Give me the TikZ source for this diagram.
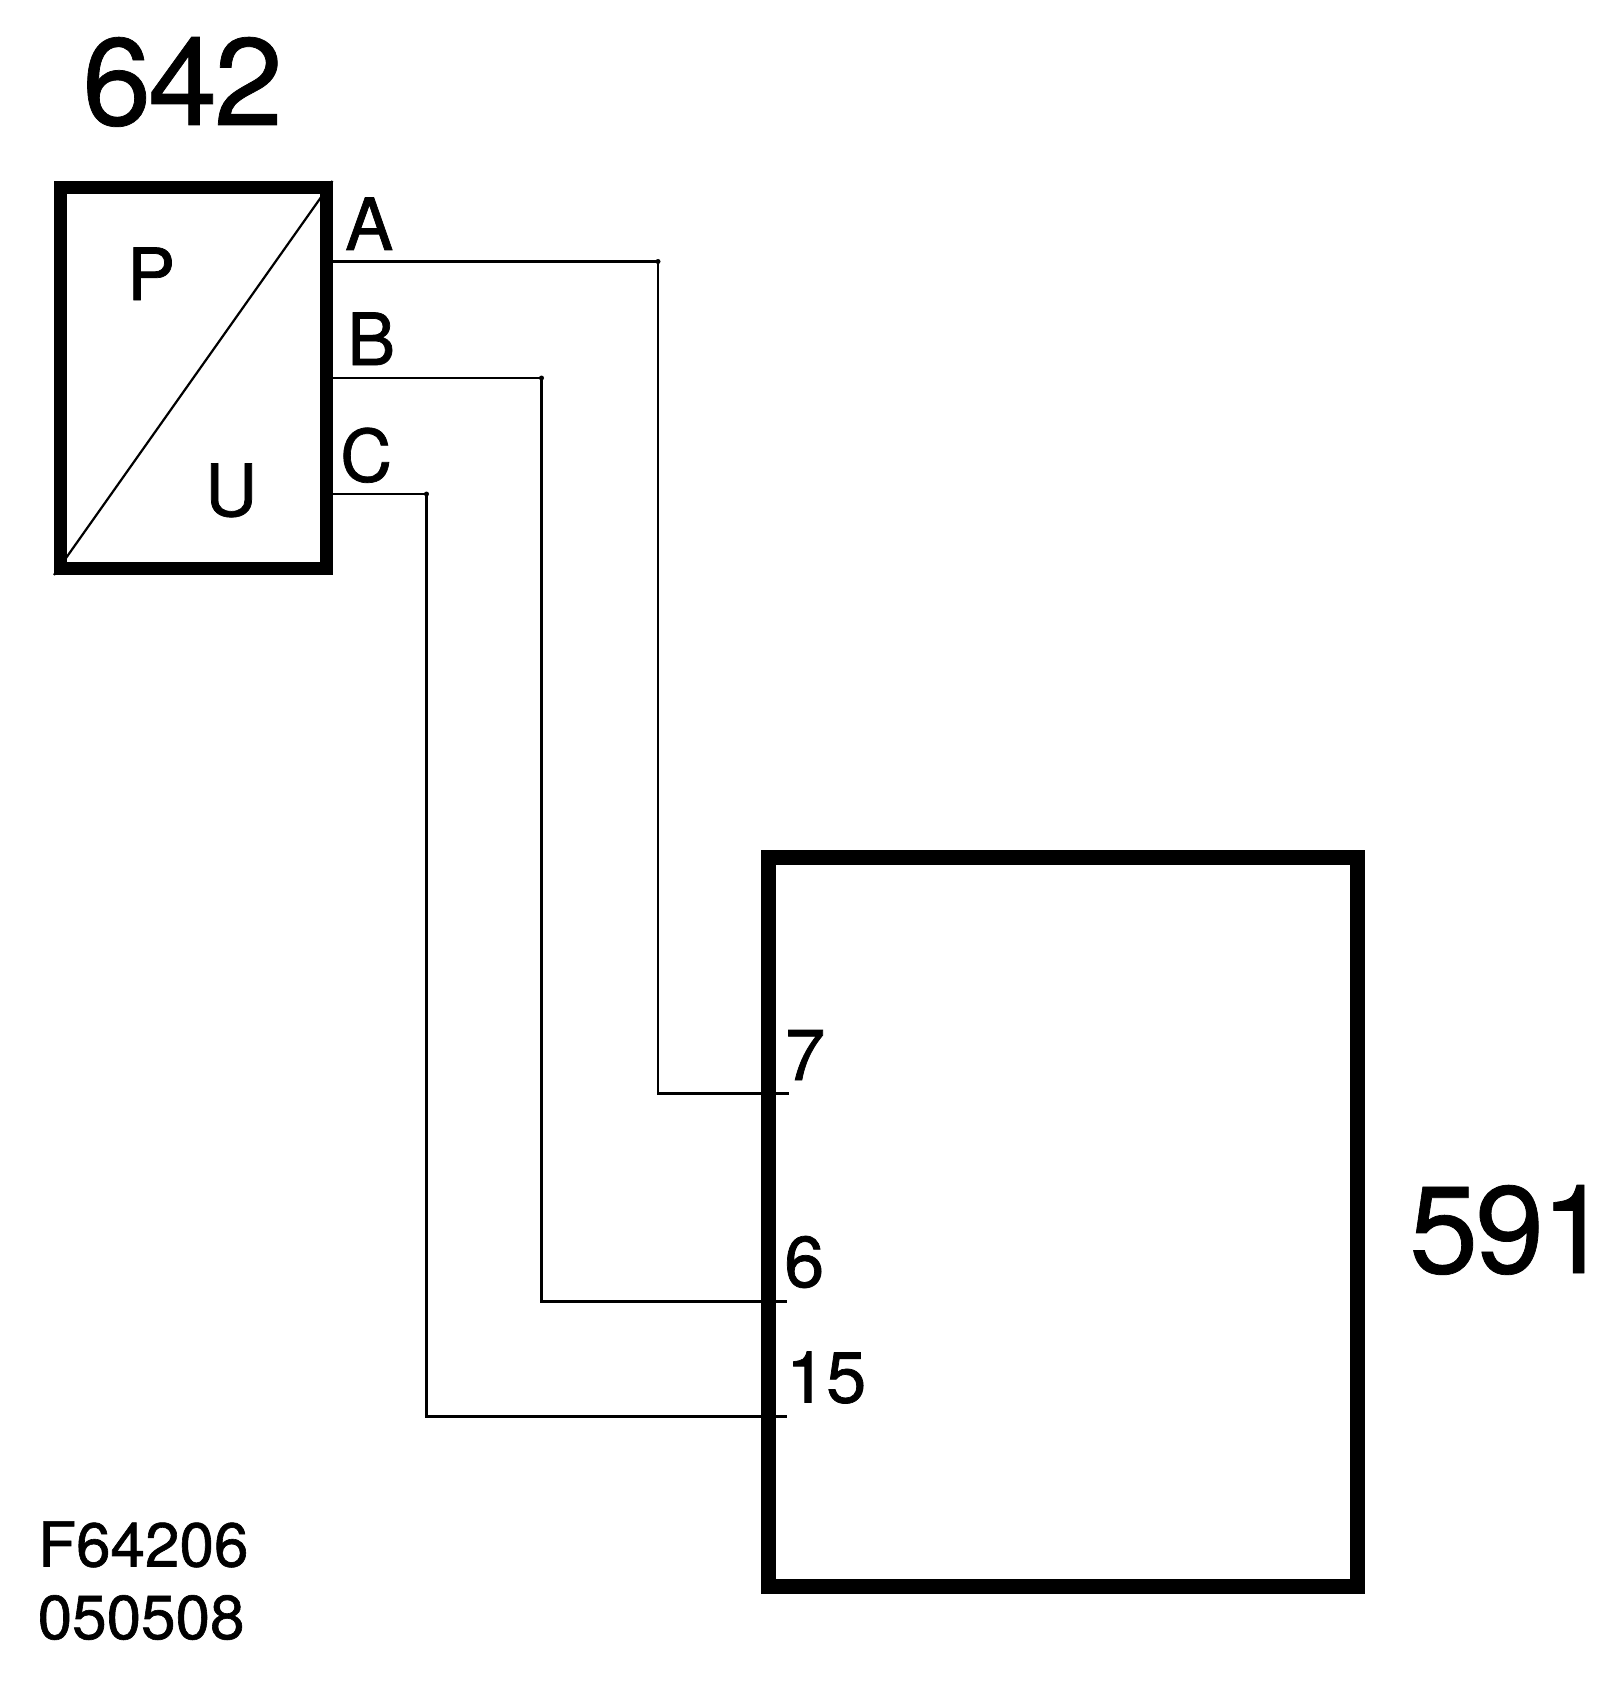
\documentclass[tikz,border=0pt]{standalone}
\usepackage{fontspec}
\setmainfont{TeX Gyre Heros}
\newfontfamily\bigfont[LetterSpace=-2.5,FakeBold=0.6]{TeX Gyre Heros}
\newfontfamily\labfont[FakeBold=1]{TeX Gyre Heros}
\tikzset{
  block/.style={draw=black,rectangle,line width=13pt,inner sep=0pt,fill=white},
  wire/.style={draw=black,line width=2.5pt,line join=miter},
  big/.style={anchor=base west,inner sep=0pt,font=\bigfont\fontsize{124}{124}\selectfont},
  mid/.style={anchor=base west,inner sep=0pt,font=\labfont\fontsize{72}{72}\selectfont},
  small/.style={anchor=base west,inner sep=0pt,font=\labfont\fontsize{62}{62}\selectfont},
}
\begin{document}
\begin{tikzpicture}[x=1pt,y=-1pt]
\useasboundingbox (0,0) rectangle (1600,1688);
\node[block,minimum width=265.5pt,minimum height=381pt] (box642) at (193.25,378) {};
\node[block,line width=15pt,minimum width=589pt,minimum height=728.5pt] (box591) at (1063,1222) {};
\draw[line width=2.2pt] (box642.south west) -- (box642.north east);
% ports and bends
\coordinate (pa) at (333,261.5); \coordinate (ca) at (658,261.5); \coordinate (da) at (658,1093.5); \coordinate (qa) at (789,1093.5);
\coordinate (pb) at (333,378); \coordinate (cb) at (541.5,378); \coordinate (db) at (541.5,1301.5); \coordinate (qb) at (787,1301.5);
\coordinate (pc) at (333,494); \coordinate (cc) at (426.5,494); \coordinate (dc) at (426.5,1416.5); \coordinate (qc) at (787,1416.5);
\draw[wire] (pa) -- (ca) -- (da) -- (qa);
\draw[wire] (pb) -- (cb) -- (db) -- (qb);
\draw[wire] (pc) -- (cc) -- (dc) -- (qc);
\fill (ca) circle (2.5pt); \fill (cb) circle (2.5pt); \fill (cc) circle (2.5pt);
\node[big] (t642) at (82,125) {642};
\node[big] (t591) at (1409,1273) {591\kern-10pt};
\node[mid] (tP) at (127,300) {P};
\node[mid] (tU) at (205,516) {U};
\node[mid] (tA) at (345,250) {A};
\node[mid] (tB) at (347,365) {B};
\node[mid] (tC) at (340,481.5) {C};
\node[mid] (t7) at (785,1080) {7};
\node[mid] (t6) at (784,1287) {6};
\node[mid] (t15) at (786,1402.5) {15};
\node[small] (tF) at (38,1566.5) {F64206};
\node[small] (tD) at (37.5,1639) {050508};
\end{tikzpicture}
\end{document}
